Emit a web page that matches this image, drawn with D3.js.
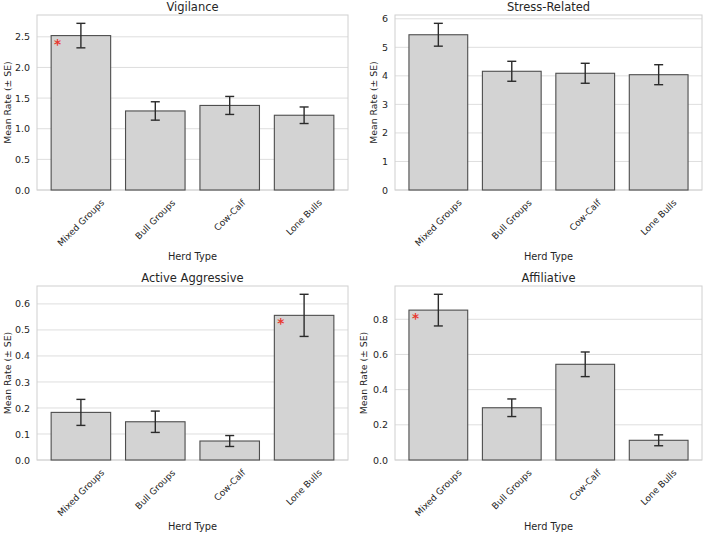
<!DOCTYPE html>
<html>
<head>
<meta charset="utf-8">
<script src="https://cdn.jsdelivr.net/npm/d3@7"></script>
<style>
  body { margin: 0; background: #fff; }
  svg { font-family: "DejaVu Sans", sans-serif; }
</style>
</head>
<body>
<svg id="chart" width="709" height="534"></svg>
<script>
// herd types on the x axis
var categories = ["Mixed Groups", "Bull Groups", "Cow-Calf", "Lone Bulls"];

// mean rate and SE for each behaviour
var vigilanceMean = [2.52, 1.29, 1.38, 1.22];
var vigilanceSE   = [0.20, 0.15, 0.147, 0.135];
var stressMean    = [5.44, 4.16, 4.09, 4.04];
var stressSE      = [0.40, 0.35, 0.35, 0.35];
var aggressMean   = [0.183, 0.147, 0.073, 0.556];
var aggressSE     = [0.050, 0.041, 0.021, 0.081];
var affilMean     = [0.852, 0.297, 0.544, 0.112];
var affilSE       = [0.090, 0.050, 0.070, 0.031];

// y tick values
var vigilanceTicks = [0, 0.5, 1, 1.5, 2, 2.5];
var stressTicks    = [0, 1, 2, 3, 4, 5, 6];
var aggressTicks   = [0, 0.1, 0.2, 0.3, 0.4, 0.5, 0.6];
var affilTicks     = [0, 0.2, 0.4, 0.6, 0.8];

// which bar gets a significance star
var vigilanceStar = ["Mixed Groups"];
var stressStar    = [];
var aggressStar   = ["Lone Bulls"];
var affilStar     = ["Mixed Groups"];

var panels = [
  {title: "Vigilance", mean: vigilanceMean, se: vigilanceSE, ticks: vigilanceTicks, fmt: ".1f", star: vigilanceStar,
   box: {l: 37, t: 15, r: 348, b: 190}, ylabX: 7},
  {title: "Stress-Related", mean: stressMean, se: stressSE, ticks: stressTicks, fmt: "d", star: stressStar,
   box: {l: 395, t: 15, r: 702, b: 190}, ylabX: 373},
  {title: "Active Aggressive", mean: aggressMean, se: aggressSE, ticks: aggressTicks, fmt: ".1f", star: aggressStar,
   box: {l: 37, t: 286, r: 348, b: 460}, ylabX: 7},
  {title: "Affiliative", mean: affilMean, se: affilSE, ticks: affilTicks, fmt: ".1f", star: affilStar,
   box: {l: 395, t: 286, r: 702, b: 460}, ylabX: 363}
];

var svg = d3.select("#chart");
var textCol = "#262626";

panels.forEach(function(p) {
  var b = p.box;
  var rows = categories.map(function(c, i) { return {cat: c, m: p.mean[i], se: p.se[i]}; });
  var ymax = d3.max(rows, function(d) { return d.m + d.se; }) * 1.05;

  var x = d3.scaleBand().domain(categories).range([b.l, b.r]).paddingInner(0.2).paddingOuter(0.19);
  var y = d3.scaleLinear().domain([0, ymax]).range([b.b, b.t]);

  var g = svg.append("g");

  // grid
  g.selectAll(".grid").data(p.ticks).enter().append("line")
    .attr("x1", b.l).attr("x2", b.r)
    .attr("y1", function(d) { return y(d); }).attr("y2", function(d) { return y(d); })
    .attr("stroke", "#dedede").attr("stroke-width", 1);

  // frame
  g.append("rect")
    .attr("x", b.l).attr("y", b.t).attr("width", b.r - b.l).attr("height", b.b - b.t)
    .attr("fill", "none").attr("stroke", "#d0d0d0").attr("stroke-width", 1);

  // y axis labels
  var yAxis = d3.axisLeft(y).tickValues(p.ticks).tickFormat(d3.format(p.fmt)).tickSize(0).tickPadding(7);
  var ya = g.append("g").attr("transform", "translate(" + b.l + ",0)").call(yAxis);
  ya.select(".domain").remove();
  ya.selectAll("text").attr("fill", textCol).style("font-size", "9.5px").style("font-family", "DejaVu Sans");

  // bars
  g.selectAll(".bar").data(rows).enter().append("rect")
    .attr("x", function(d) { return x(d.cat); })
    .attr("y", function(d) { return y(d.m); })
    .attr("width", x.bandwidth())
    .attr("height", function(d) { return y(0) - y(d.m); })
    .attr("fill", "#d3d3d3").attr("stroke", "#4d4d4d").attr("stroke-width", 1.1);

  // error bars
  var eb = g.selectAll(".err").data(rows).enter().append("g")
    .attr("stroke", "#2b2b2b").attr("stroke-width", 1.4);
  eb.append("line")
    .attr("x1", function(d) { return x(d.cat) + x.bandwidth() / 2; })
    .attr("x2", function(d) { return x(d.cat) + x.bandwidth() / 2; })
    .attr("y1", function(d) { return y(d.m - d.se); })
    .attr("y2", function(d) { return y(d.m + d.se); });
  [-1, 1].forEach(function(s) {
    eb.append("line")
      .attr("x1", function(d) { return x(d.cat) + x.bandwidth() / 2 - 4.5; })
      .attr("x2", function(d) { return x(d.cat) + x.bandwidth() / 2 + 4.5; })
      .attr("y1", function(d) { return y(d.m + s * d.se); })
      .attr("y2", function(d) { return y(d.m + s * d.se); });
  });

  // significance stars
  g.selectAll(".star").data(rows.filter(function(d) { return p.star.indexOf(d.cat) >= 0; }))
    .enter().append("text")
    .attr("x", function(d) { return x(d.cat) + 6.5; })
    .attr("y", function(d) { return y(d.m) + 13; })
    .attr("text-anchor", "middle")
    .attr("fill", "#e8392f")
    .style("font-size", "13.5px")
    .style("font-weight", "bold")
    .text("*");

  // x tick labels, rotated 45 with the bbox centred on the tick
  g.selectAll(".xt").data(categories).enter().append("text")
    .attr("fill", textCol)
    .style("font-size", "9px")
    .attr("text-anchor", "middle")
    .attr("dominant-baseline", "central")
    .text(function(d) { return d; })
    .each(function(d) {
      var len = this.getComputedTextLength();
      var half = (len + 9) / (2 * Math.SQRT2);
      var cx = x(d) + x.bandwidth() / 2;
      var cy = b.b + 8 + half;
      d3.select(this).attr("transform", "translate(" + cx + "," + cy + ") rotate(-45)");
    });

  // titles
  g.append("text")
    .attr("x", (b.l + b.r) / 2).attr("y", b.t - 4)
    .attr("text-anchor", "middle").attr("fill", textCol)
    .style("font-size", "11.5px")
    .text(p.title);

  g.append("text")
    .attr("x", (b.l + b.r) / 2).attr("y", b.b + 70)
    .attr("text-anchor", "middle").attr("fill", textCol)
    .style("font-size", "9.8px")
    .text("Herd Type");

  g.append("text")
    .attr("transform", "translate(" + p.ylabX + "," + ((b.t + b.b) / 2) + ") rotate(-90)")
    .attr("text-anchor", "middle").attr("dominant-baseline", "central")
    .attr("fill", textCol)
    .style("font-size", "9.3px")
    .text("Mean Rate (± SE)");
});
</script>
</body>
</html>
